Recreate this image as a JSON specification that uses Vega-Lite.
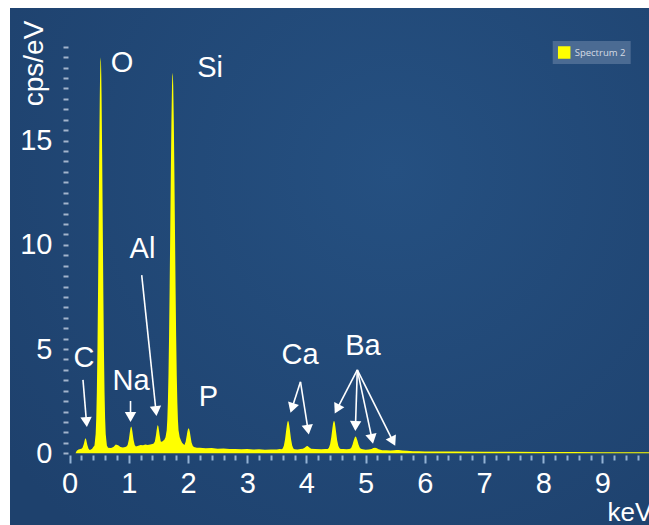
{
  "$schema": "https://vega.github.io/schema/vega-lite/v6.json",
  "width": 639,
  "height": 517,
  "autosize": {"type": "none"},
  "padding": {"left": 10, "top": 8, "right": 0, "bottom": 0},
  "background": "#ffffff",
  "config": {
    "font": "Liberation Sans",
    "view": {
      "stroke": null,
      "fill": {
        "gradient": "radial",
        "x1": 0.6, "y1": 0.35, "r1": 0,
        "x2": 0.6, "y2": 0.35, "r2": 0.75,
        "stops": [
          {"offset": 0, "color": "#255081"},
          {"offset": 1, "color": "#1e416d"}
        ]
      }
    }
  },
  "datasets": {
    "spectrum": [
      {"keV": 0.10, "cps": 0}, {"keV": 0.12, "cps": 0.12}, {"keV": 0.15, "cps": 0.18}, {"keV": 0.18, "cps": 0.2},
      {"keV": 0.20, "cps": 0.22}, {"keV": 0.22, "cps": 0.28}, {"keV": 0.24, "cps": 0.45}, {"keV": 0.26, "cps": 0.68},
      {"keV": 0.27, "cps": 0.72}, {"keV": 0.28, "cps": 0.66}, {"keV": 0.30, "cps": 0.40}, {"keV": 0.32, "cps": 0.22},
      {"keV": 0.34, "cps": 0.16}, {"keV": 0.36, "cps": 0.18}, {"keV": 0.38, "cps": 0.22}, {"keV": 0.40, "cps": 0.30},
      {"keV": 0.42, "cps": 0.37}, {"keV": 0.44, "cps": 0.93}, {"keV": 0.45, "cps": 1.67}, {"keV": 0.46, "cps": 2.94},
      {"keV": 0.47, "cps": 4.92}, {"keV": 0.48, "cps": 7.65}, {"keV": 0.49, "cps": 10.94}, {"keV": 0.50, "cps": 14.32},
      {"keV": 0.51, "cps": 17.16}, {"keV": 0.515, "cps": 18.15}, {"keV": 0.52, "cps": 18.79}, {"keV": 0.525, "cps": 19.0},
      {"keV": 0.53, "cps": 18.79}, {"keV": 0.535, "cps": 18.15}, {"keV": 0.54, "cps": 17.16}, {"keV": 0.55, "cps": 14.32},
      {"keV": 0.56, "cps": 10.94}, {"keV": 0.57, "cps": 7.65}, {"keV": 0.58, "cps": 4.92}, {"keV": 0.59, "cps": 2.94},
      {"keV": 0.60, "cps": 1.67}, {"keV": 0.61, "cps": 0.93}, {"keV": 0.63, "cps": 0.37}, {"keV": 0.65, "cps": 0.27},
      {"keV": 0.70, "cps": 0.25}, {"keV": 0.74, "cps": 0.3}, {"keV": 0.78, "cps": 0.42}, {"keV": 0.82, "cps": 0.38},
      {"keV": 0.86, "cps": 0.3}, {"keV": 0.90, "cps": 0.28}, {"keV": 0.94, "cps": 0.3}, {"keV": 0.96, "cps": 0.32},
      {"keV": 0.98, "cps": 0.40}, {"keV": 1.00, "cps": 0.65}, {"keV": 1.01, "cps": 0.85}, {"keV": 1.02, "cps": 1.06},
      {"keV": 1.03, "cps": 1.22}, {"keV": 1.04, "cps": 1.28}, {"keV": 1.05, "cps": 1.22}, {"keV": 1.06, "cps": 1.06},
      {"keV": 1.07, "cps": 0.85}, {"keV": 1.08, "cps": 0.65}, {"keV": 1.10, "cps": 0.40}, {"keV": 1.12, "cps": 0.32},
      {"keV": 1.16, "cps": 0.36}, {"keV": 1.20, "cps": 0.40}, {"keV": 1.24, "cps": 0.38}, {"keV": 1.28, "cps": 0.42},
      {"keV": 1.32, "cps": 0.40}, {"keV": 1.36, "cps": 0.42}, {"keV": 1.40, "cps": 0.45}, {"keV": 1.42, "cps": 0.47},
      {"keV": 1.44, "cps": 0.57}, {"keV": 1.46, "cps": 0.89}, {"keV": 1.47, "cps": 1.11}, {"keV": 1.48, "cps": 1.29},
      {"keV": 1.49, "cps": 1.36}, {"keV": 1.50, "cps": 1.29}, {"keV": 1.51, "cps": 1.11}, {"keV": 1.52, "cps": 0.89},
      {"keV": 1.54, "cps": 0.57}, {"keV": 1.56, "cps": 0.55}, {"keV": 1.58, "cps": 0.6}, {"keV": 1.60, "cps": 0.65},
      {"keV": 1.62, "cps": 0.77}, {"keV": 1.64, "cps": 1.1}, {"keV": 1.65, "cps": 1.6}, {"keV": 1.66, "cps": 2.45},
      {"keV": 1.67, "cps": 3.75}, {"keV": 1.68, "cps": 5.6}, {"keV": 1.69, "cps": 7.96}, {"keV": 1.70, "cps": 10.7},
      {"keV": 1.71, "cps": 13.5}, {"keV": 1.72, "cps": 15.96}, {"keV": 1.73, "cps": 17.64}, {"keV": 1.735, "cps": 18.1},
      {"keV": 1.74, "cps": 18.25}, {"keV": 1.745, "cps": 18.1}, {"keV": 1.75, "cps": 17.64}, {"keV": 1.76, "cps": 15.96},
      {"keV": 1.77, "cps": 13.5}, {"keV": 1.78, "cps": 10.7}, {"keV": 1.79, "cps": 7.96}, {"keV": 1.80, "cps": 5.6},
      {"keV": 1.81, "cps": 3.75}, {"keV": 1.82, "cps": 2.45}, {"keV": 1.83, "cps": 1.6}, {"keV": 1.84, "cps": 1.1},
      {"keV": 1.86, "cps": 0.77}, {"keV": 1.88, "cps": 0.62}, {"keV": 1.90, "cps": 0.5}, {"keV": 1.92, "cps": 0.45},
      {"keV": 1.94, "cps": 0.4}, {"keV": 1.96, "cps": 0.55}, {"keV": 1.98, "cps": 0.88}, {"keV": 1.99, "cps": 1.04},
      {"keV": 2.00, "cps": 1.16}, {"keV": 2.01, "cps": 1.2}, {"keV": 2.02, "cps": 1.15}, {"keV": 2.03, "cps": 1.04},
      {"keV": 2.04, "cps": 0.86}, {"keV": 2.06, "cps": 0.52}, {"keV": 2.08, "cps": 0.36}, {"keV": 2.10, "cps": 0.3},
      {"keV": 2.15, "cps": 0.27}, {"keV": 2.2, "cps": 0.26}, {"keV": 2.3, "cps": 0.24}, {"keV": 2.4, "cps": 0.25},
      {"keV": 2.5, "cps": 0.22}, {"keV": 2.6, "cps": 0.23}, {"keV": 2.7, "cps": 0.2}, {"keV": 2.8, "cps": 0.21},
      {"keV": 2.9, "cps": 0.19}, {"keV": 3.0, "cps": 0.2}, {"keV": 3.1, "cps": 0.18}, {"keV": 3.2, "cps": 0.19},
      {"keV": 3.3, "cps": 0.17}, {"keV": 3.4, "cps": 0.18}, {"keV": 3.5, "cps": 0.18}, {"keV": 3.55, "cps": 0.2},
      {"keV": 3.58, "cps": 0.19}, {"keV": 3.60, "cps": 0.23}, {"keV": 3.62, "cps": 0.37}, {"keV": 3.64, "cps": 0.68},
      {"keV": 3.66, "cps": 1.14}, {"keV": 3.67, "cps": 1.35}, {"keV": 3.68, "cps": 1.5}, {"keV": 3.69, "cps": 1.56},
      {"keV": 3.70, "cps": 1.5}, {"keV": 3.71, "cps": 1.35}, {"keV": 3.72, "cps": 1.14}, {"keV": 3.74, "cps": 0.68},
      {"keV": 3.76, "cps": 0.37}, {"keV": 3.78, "cps": 0.23}, {"keV": 3.80, "cps": 0.19}, {"keV": 3.85, "cps": 0.18},
      {"keV": 3.90, "cps": 0.2}, {"keV": 3.94, "cps": 0.22}, {"keV": 3.97, "cps": 0.27}, {"keV": 4.00, "cps": 0.34},
      {"keV": 4.02, "cps": 0.35}, {"keV": 4.05, "cps": 0.28}, {"keV": 4.08, "cps": 0.22}, {"keV": 4.15, "cps": 0.2},
      {"keV": 4.25, "cps": 0.19}, {"keV": 4.32, "cps": 0.2}, {"keV": 4.36, "cps": 0.21}, {"keV": 4.38, "cps": 0.27},
      {"keV": 4.40, "cps": 0.43}, {"keV": 4.42, "cps": 0.77}, {"keV": 4.44, "cps": 1.23}, {"keV": 4.45, "cps": 1.43},
      {"keV": 4.46, "cps": 1.54}, {"keV": 4.47, "cps": 1.55}, {"keV": 4.48, "cps": 1.46}, {"keV": 4.49, "cps": 1.27},
      {"keV": 4.50, "cps": 1.05}, {"keV": 4.52, "cps": 0.61}, {"keV": 4.54, "cps": 0.35}, {"keV": 4.56, "cps": 0.24},
      {"keV": 4.58, "cps": 0.21}, {"keV": 4.62, "cps": 0.2}, {"keV": 4.68, "cps": 0.19}, {"keV": 4.72, "cps": 0.2},
      {"keV": 4.74, "cps": 0.22}, {"keV": 4.76, "cps": 0.28}, {"keV": 4.78, "cps": 0.42}, {"keV": 4.80, "cps": 0.62},
      {"keV": 4.82, "cps": 0.78}, {"keV": 4.83, "cps": 0.8}, {"keV": 4.84, "cps": 0.78}, {"keV": 4.86, "cps": 0.62},
      {"keV": 4.88, "cps": 0.42}, {"keV": 4.90, "cps": 0.28}, {"keV": 4.92, "cps": 0.22}, {"keV": 4.95, "cps": 0.19},
      {"keV": 5.00, "cps": 0.17}, {"keV": 5.05, "cps": 0.18}, {"keV": 5.10, "cps": 0.2}, {"keV": 5.13, "cps": 0.25},
      {"keV": 5.16, "cps": 0.27}, {"keV": 5.19, "cps": 0.24}, {"keV": 5.22, "cps": 0.19}, {"keV": 5.28, "cps": 0.15},
      {"keV": 5.35, "cps": 0.14}, {"keV": 5.42, "cps": 0.13}, {"keV": 5.48, "cps": 0.14}, {"keV": 5.52, "cps": 0.16},
      {"keV": 5.56, "cps": 0.16}, {"keV": 5.62, "cps": 0.13}, {"keV": 5.7, "cps": 0.12}, {"keV": 5.8, "cps": 0.1},
      {"keV": 5.9, "cps": 0.1}, {"keV": 6.0, "cps": 0.09}, {"keV": 6.2, "cps": 0.08}, {"keV": 6.5, "cps": 0.08},
      {"keV": 7.0, "cps": 0.07}, {"keV": 7.5, "cps": 0.07}, {"keV": 8.0, "cps": 0.06}, {"keV": 8.5, "cps": 0.06},
      {"keV": 9.0, "cps": 0.05}, {"keV": 9.5, "cps": 0.05}, {"keV": 9.8, "cps": 0.05}
    ],
    "labels": [
      {"text": "O", "keV": 0.885, "cps": 18.72},
      {"text": "Si", "keV": 2.372, "cps": 18.48},
      {"text": "Al", "keV": 1.231, "cps": 9.80},
      {"text": "C", "keV": 0.243, "cps": 4.55},
      {"text": "Na", "keV": 1.037, "cps": 3.47},
      {"text": "P", "keV": 2.346, "cps": 2.72},
      {"text": "Ca", "keV": 3.892, "cps": 4.72},
      {"text": "Ba", "keV": 4.956, "cps": 5.15}
    ],
    "arrows": [
      {"keV": 0.226, "cps": 3.52, "keV2": 0.285, "cps2": 1.50},
      {"keV": 1.029, "cps": 2.51, "keV2": 1.029, "cps2": 1.74},
      {"keV": 1.218, "cps": 8.55, "keV2": 1.459, "cps2": 2.03},
      {"keV": 3.900, "cps": 3.43, "keV2": 3.757, "cps2": 2.17},
      {"keV": 3.900, "cps": 3.43, "keV2": 4.027, "cps2": 1.13},
      {"keV": 4.860, "cps": 4.00, "keV2": 4.517, "cps2": 2.12},
      {"keV": 4.860, "cps": 4.00, "keV2": 4.829, "cps2": 1.31},
      {"keV": 4.860, "cps": 4.00, "keV2": 5.108, "cps2": 0.69},
      {"keV": 4.860, "cps": 4.00, "keV2": 5.463, "cps2": 0.57}
    ]
  },
  "layer": [
    {
      "data": {"name": "spectrum"},
      "mark": {"type": "area", "clip": true, "interpolate": "linear", "color": "#ffff00"},
      "encoding": {
        "x": {
          "field": "keV", "type": "quantitative",
          "scale": {"domain": [-1.0068, 9.787], "nice": false, "zero": false},
          "axis": {
            "title": "keV",
            "orient": "bottom",
            "offset": -70,
            "domain": false,
            "grid": false,
            "tickCount": 500,
            "tickMinStep": 0.01,
            "values": [0,0.2,0.4,0.6,0.8,1,1.2,1.4,1.6,1.8,2,2.2,2.4,2.6,2.8,3,3.2,3.4,3.6,3.8,4,4.2,4.4,4.6,4.8,5,5.2,5.4,5.6,5.8,6,6.2,6.4,6.6,6.8,7,7.2,7.4,7.6,7.8,8,8.2,8.4,8.6,8.8,9,9.2,9.4,9.6],
            "tickColor": "#93b2d4",
            "tickWidth": 2,
            "tickSize": {"condition": {"test": "datum.value === round(datum.value)", "value": 8}, "value": 5},
            "labelExpr": "datum.value === round(datum.value) ? format(datum.value, 'd') : ''",
            "labelOverlap": false,
            "labelFontSize": 29,
            "labelColor": "#ffffff",
            "labelPadding": 6,
            "labelBaseline": "top",
            "labelFlush": false,
            "titleFontSize": 26,
            "titleFontWeight": "normal",
            "titleColor": "#ffffff",
            "titleAlign": "left",
            "titleBaseline": "alphabetic",
            "titleAnchor": null,
            "titleX": 597,
            "titleY": 65
          }
        },
        "y": {
          "field": "cps", "type": "quantitative",
          "scale": {"domain": [-3.44, 21.36], "nice": false, "zero": false},
          "axis": {
            "title": "cps/eV",
            "orient": "left",
            "offset": -58,
            "domain": false,
            "grid": false,
            "tickCount": 500,
            "tickMinStep": 0.01,
            "values": [0,0.5,1,1.5,2,2.5,3,3.5,4,4.5,5,5.5,6,6.5,7,7.5,8,8.5,9,9.5,10,10.5,11,11.5,12,12.5,13,13.5,14,14.5,15,15.5,16,16.5,17,17.5,18,18.5,19,19.5],
            "tickColor": "#a3b4cc",
            "tickWidth": 2,
            "tickSize": 5,
            "labelExpr": "datum.value % 5 === 0 ? format(datum.value, 'd') : ''",
            "labelOverlap": false,
            "labelFontSize": 29,
            "labelColor": "#ffffff",
            "labelPadding": 11,
            "labelBaseline": "middle",
            "labelFlush": false,
            "titleFontSize": 28,
            "titleFontWeight": "normal",
            "titleColor": "#ffffff",
            "titleAngle": -90,
            "titleAlign": "center",
            "titleBaseline": "alphabetic",
            "titleAnchor": null,
            "titleX": -26,
            "titleY": 55
          }
        },
        "y2": {"datum": 0},
        "color": {
          "datum": "Spectrum 2",
          "type": "nominal",
          "scale": {"range": ["#ffff00"]},
          "legend": {
            "title": null,
            "orient": "none",
            "legendX": 542.7,
            "legendY": 33,
            "fillColor": "#4b6b93",
            "strokeColor": null,
            "padding": 5,
            "symbolType": "square",
            "symbolSize": 156,
            "symbolStrokeWidth": 0,
            "labelOffset": 4,
            "labelFont": "Open Sans",
            "labelFontSize": 9.5,
            "labelColor": "#d6dbe4",
            "encode": {
              "legend": {"update": {"width": {"value": 110}}}
            }
          }
        }
      }
    },
    {
      "data": {"name": "arrows"},
      "mark": {"type": "rule", "color": "#ffffff", "strokeWidth": 1.6},
      "encoding": {
        "x": {"field": "keV", "type": "quantitative", "scale": {"domain": [-1.0068, 9.787], "nice": false, "zero": false}},
        "y": {"field": "cps", "type": "quantitative", "scale": {"domain": [-3.44, 21.36], "nice": false, "zero": false}},
        "x2": {"field": "keV2"},
        "y2": {"field": "cps2"}
      }
    },
    {
      "data": {"name": "arrows"},
      "transform": [
        {"calculate": "-atan2((datum.keV2 - datum.keV) * 59.2, (datum.cps - datum.cps2) * 20.85) * 180 / PI", "as": "heading"}
      ],
      "mark": {"type": "point", "shape": "triangle-down", "filled": true, "color": "#ffffff", "opacity": 1, "size": 130},
      "encoding": {
        "x": {"field": "keV2", "type": "quantitative", "scale": {"domain": [-1.0068, 9.787], "nice": false, "zero": false}},
        "y": {"field": "cps2", "type": "quantitative", "scale": {"domain": [-3.44, 21.36], "nice": false, "zero": false}},
        "angle": {"field": "heading", "type": "quantitative", "scale": null}
      }
    },
    {
      "data": {"name": "labels"},
      "mark": {"type": "text", "color": "#ffffff", "fontSize": 29, "font": "Liberation Sans", "align": "center", "baseline": "middle"},
      "encoding": {
        "x": {"field": "keV", "type": "quantitative", "scale": {"domain": [-1.0068, 9.787], "nice": false, "zero": false}},
        "y": {"field": "cps", "type": "quantitative", "scale": {"domain": [-3.44, 21.36], "nice": false, "zero": false}},
        "text": {"field": "text"}
      }
    }
  ]
}
